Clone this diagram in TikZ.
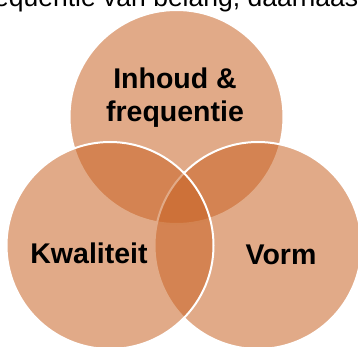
\documentclass[tikz,border=0pt]{standalone}
\usepackage{fontspec}
\setmainfont{Liberation Sans}
\usetikzlibrary{positioning}
\definecolor{vennoranje}{RGB}{200,98,35}
\tikzset{
  venncirkel/.style={fill=vennoranje, fill opacity=0.54, draw=white, line width=2pt},
  vennlabel/.style={font=\bfseries\fontsize{28.5}{33.5}\selectfont, inner sep=0pt, text=black}
}

\begin{document}
\begin{tikzpicture}[x=1pt, y=-1pt]
    \useasboundingbox (0,0) rectangle (358,347);
    \clip (0,0) rectangle (358,347);
    % Tekstregel erboven (afgesneden)
    \node[anchor=base west, inner sep=0pt, font=\fontsize{26.5}{30}\selectfont] (regel) at (-6,6.5) {equentie van belang, daarnaast};
    
    % De drie cirkels
    \draw[venncirkel] (176.5,117) circle (107pt);
    \draw[venncirkel] (258,245.5) circle (103.5pt);
    \draw[venncirkel] (110,245.5) circle (103.5pt);
    
    % Labels
    \node[vennlabel, align=center, anchor=north] (inhoud) at (175,67.3) {Inhoud \&\\frequentie};
    \node[vennlabel, anchor=base] (kwaliteit) at (89,263) {Kwaliteit};
    \node[vennlabel, anchor=base] (vorm) at (281,264) {Vorm};
\end{tikzpicture}
\end{document}
